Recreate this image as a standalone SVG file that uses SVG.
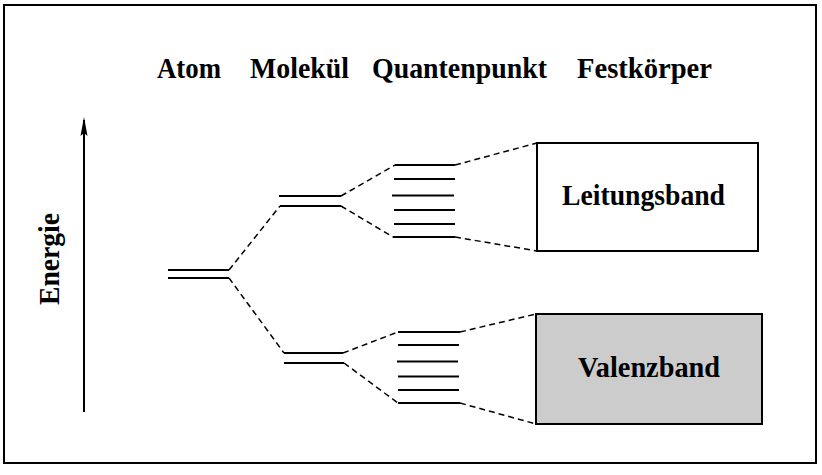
<svg xmlns="http://www.w3.org/2000/svg" width="822" height="475" viewBox="0 0 822 475">
<style>
.t{font-family:"Liberation Serif","Times New Roman",serif;font-weight:bold;font-size:29px;fill:#000}
.lv{stroke:#000;stroke-width:2;fill:none}
.d{stroke:#000;stroke-width:1.5;fill:none;stroke-dasharray:6 4}
.box{stroke:#000;stroke-width:2}
</style>
<defs>
<marker id="ah" markerWidth="20" markerHeight="8" refX="17" refY="4" orient="auto" markerUnits="userSpaceOnUse" viewBox="0 0 20 8">
<path d="M20,4 L1,0.5 L4,4 L1,7.5 Z" fill="#000"/>
</marker>
</defs>
<rect x="4" y="5" width="812" height="458" fill="#fff" stroke="#000" stroke-width="2"/>
<g id="titles">
<text class="t" x="157" y="78" textLength="64" lengthAdjust="spacingAndGlyphs">Atom</text>
<text class="t" x="250" y="78" textLength="99" lengthAdjust="spacingAndGlyphs">Molekül</text>
<text class="t" x="372" y="78" textLength="175" lengthAdjust="spacingAndGlyphs">Quantenpunkt</text>
<text class="t" x="577" y="78" textLength="135" lengthAdjust="spacingAndGlyphs">Festkörper</text>
</g>
<g id="energy-axis">
<line x1="84" y1="412" x2="84" y2="120" stroke="#000" stroke-width="2" marker-end="url(#ah)"/>
<text class="t" transform="translate(59,305) rotate(-90)" textLength="92" lengthAdjust="spacingAndGlyphs">Energie</text>
</g>
<g id="atom">
<line class="lv" x1="168" y1="270" x2="229" y2="270"/>
<line class="lv" x1="168" y1="278" x2="229" y2="278"/>
</g>
<g id="molecule-upper">
<line class="lv" x1="279" y1="196" x2="341" y2="196"/>
<line class="lv" x1="280" y1="206" x2="341" y2="206"/>
</g>
<g id="molecule-lower">
<line class="lv" x1="284" y1="353" x2="343" y2="353"/>
<line class="lv" x1="284" y1="363" x2="344" y2="363"/>
</g>
<g id="qd-upper">
<line class="lv" x1="395" y1="165" x2="455" y2="165"/>
<line class="lv" x1="394" y1="179" x2="455" y2="179"/>
<line class="lv" x1="392" y1="195.5" x2="454" y2="195.5"/>
<line class="lv" x1="394" y1="210" x2="455" y2="210"/>
<line class="lv" x1="394" y1="224" x2="455" y2="224"/>
<line class="lv" x1="393" y1="237" x2="455" y2="237"/>
</g>
<g id="qd-lower">
<line class="lv" x1="398" y1="332" x2="460" y2="332"/>
<line class="lv" x1="398" y1="345" x2="459" y2="345"/>
<line class="lv" x1="397" y1="361.5" x2="458" y2="361.5"/>
<line class="lv" x1="398" y1="376.5" x2="459" y2="376.5"/>
<line class="lv" x1="398" y1="390" x2="459" y2="390"/>
<line class="lv" x1="398" y1="403" x2="460" y2="403"/>
</g>
<g id="leitungsband">
<rect class="box" x="537" y="143" width="221" height="108" fill="#fff"/>
<text class="t" x="562" y="205" textLength="163" lengthAdjust="spacingAndGlyphs">Leitungsband</text>
</g>
<g id="valenzband">
<rect class="box" x="536" y="314" width="226" height="110" fill="#cccccc"/>
<text class="t" x="578" y="377" textLength="142" lengthAdjust="spacingAndGlyphs">Valenzband</text>
</g>
<g id="connectors">
<line class="d" x1="229" y1="270" x2="280" y2="206"/>
<line class="d" x1="229" y1="278" x2="284" y2="353"/>
<line class="d" x1="341" y1="196" x2="395" y2="165"/>
<line class="d" x1="341" y1="206" x2="393" y2="237"/>
<line class="d" x1="343" y1="353" x2="398" y2="332"/>
<line class="d" x1="344" y1="363" x2="398" y2="403"/>
<line class="d" x1="455" y1="165" x2="537" y2="143"/>
<line class="d" x1="455" y1="237" x2="537" y2="251"/>
<line class="d" x1="460" y1="332" x2="536" y2="314"/>
<line class="d" x1="460" y1="403" x2="536" y2="424"/>
</g>
</svg>
